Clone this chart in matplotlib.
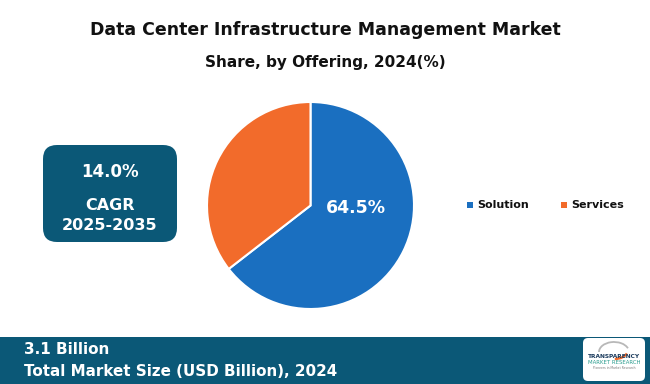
import matplotlib.pyplot as plt
from matplotlib.patches import FancyBboxPatch, Rectangle, Arc

labels = ['Solution', 'Services']
shares = [64.5, 35.5]
colors = ['#1a6fc0', '#f26b2b']
title = 'Data Center Infrastructure Management Market'
subtitle = 'Share, by Offering, 2024(%)'
cagr = '14.0%'
cagr_period = 'CAGR\n2025-2035'
market_size = '3.1 Billion'
market_label = 'Total Market Size (USD Billion), 2024'

teal = '#0b5877'
W, H = 650, 384

fig = plt.figure(figsize=(6.5, 3.84), dpi=100)
fig.patch.set_facecolor('white')

# background axes in pixel coords (y downward)
bg = fig.add_axes([0, 0, 1, 1])
bg.set_xlim(0, W)
bg.set_ylim(H, 0)
bg.axis('off')

bg.text(W / 2, 30, title, ha='center', va='center', fontsize=12.5,
        fontweight='bold', color='#111111')
bg.text(W / 2, 62, subtitle, ha='center', va='center', fontsize=11,
        fontweight='bold', color='#111111')

# CAGR box
box = FancyBboxPatch((43, 145), 134, 97, boxstyle='round,pad=0,rounding_size=14',
                     fc=teal, ec='none')
bg.add_patch(box)
bg.text(110, 172, cagr, ha='center', va='center', fontsize=12,
        fontweight='bold', color='white')
bg.text(110, 215.5, cagr_period, ha='center', va='center', fontsize=11.5,
        fontweight='bold', color='white', linespacing=1.4)

# bottom band
bg.add_patch(Rectangle((0, 337), W, 47, fc=teal, ec='none'))
bg.text(24, 350, market_size, ha='left', va='center', fontsize=11,
        fontweight='bold', color='white')
bg.text(24, 371, market_label, ha='left', va='center', fontsize=10.9,
        fontweight='bold', color='white')

# logo
logo = FancyBboxPatch((583, 338), 62, 43, boxstyle='round,pad=0,rounding_size=5',
                      fc='white', ec='none')
bg.add_patch(logo)
bg.add_patch(Arc((614, 352), 30, 20, theta1=180, theta2=345, color='#b8b8b8', lw=1.3))
bg.add_patch(Arc((614, 350), 28, 18, theta1=15, theta2=85, color='#f26b2b', lw=1.8))
bg.text(614, 356, 'TRANSPARENCY', ha='center', va='center', fontsize=4.2,
        fontweight='bold', color='#1a3a5c')
bg.text(614, 363, 'MARKET RESEARCH', ha='center', va='center', fontsize=3.9,
        color='#2a9d8f')
bg.text(614, 368, 'Pioneers in Market Research', ha='center', va='center', fontsize=2.2,
        color='#777777')

# pie
cx, cy, r = 310.5, 205.5, 103.5
pax = fig.add_axes([(cx - r) / W, 1 - (cy + r) / H, 2 * r / W, 2 * r / H])
wedges, _ = pax.pie(shares, colors=colors, startangle=90, counterclock=False,
                    wedgeprops=dict(edgecolor='white', linewidth=1.5))
pax.set_xlim(-1, 1)
pax.set_ylim(-1, 1)
pax.set_aspect('equal')
pax.text(0.44, -0.025, f'{shares[0]}%', ha='center', va='center', fontsize=12.5,
         fontweight='bold', color='white')

# legend
for i, (lab, c) in enumerate(zip(labels, colors)):
    x0 = [467, 561][i]
    bg.add_patch(Rectangle((x0, 202), 6, 6, fc=c, ec='none'))
    bg.text(x0 + 10, 205, lab, ha='left', va='center', fontsize=8,
            fontweight='bold', color='#111111')

fig.savefig('out.png', dpi=100, facecolor='white')
